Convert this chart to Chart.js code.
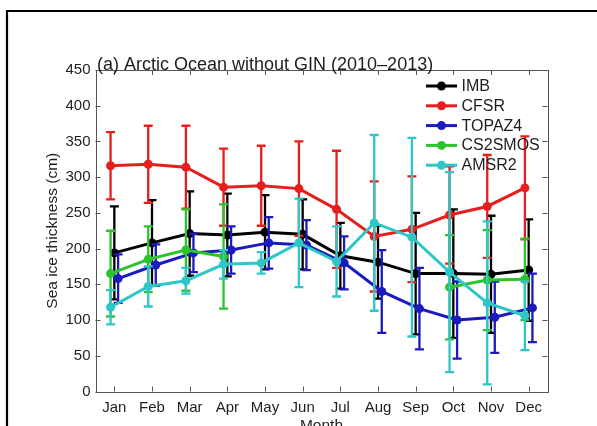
<!DOCTYPE html>
<html>
<head>
<meta charset="utf-8">
<script src="https://cdn.jsdelivr.net/npm/chart.js@4.4.1/dist/chart.umd.min.js"></script>
<style>
html,body{margin:0;padding:0;background:#fff;overflow:hidden}
canvas{display:block}
</style>
</head>
<body>
<canvas id="c" width="597" height="426"></canvas>
<script>
// ---- data ----
const months = ['Jan','Feb','Mar','Apr','May','Jun','Jul','Aug','Sep','Oct','Nov','Dec'];
const yTickValues = [0,50,100,150,200,250,300,350,400,450];

const imbMean  = [194, 208, 221, 219, 223, 220, 190, 181, 165, 165, 164, 170];
const imbStd   = [ 65,  60,  59,  58,  52,  49,  46,  51,  85,  90,  82,  71];

const cfsrMean = [316, 318, 314, 286, 288, 284, 255, 217, 227, 247, 259, 285];
const cfsrStd  = [ 47,  54,  58,  54,  56,  66,  82,  77,  74,  68,  72,  72];

const topazMean = [158, 177, 194, 198, 208, 205, 180, 140, 116, 100, 104, 117];
const topazStd  = [ 34,  29,  27,  33,  36,  35,  37,  58,  57,  54,  50,  48];

const cs2Mean = [165, 185, 198, 189, null, null, null, null, null, 146, 156, 157];
const cs2Std  = [ 60,  46,  57,  73, null, null, null, null, null,  73,  70,  57];

const amsrMean = [118, 147, 155, 178, 180, 208, 182, 236, 216, 167, 124, 106];
const amsrStd  = [ 24,  28,  18,  20,  15,  62,  49, 123, 139, 140, 114,  48];

const seriesLabels = ['IMB','CFSR','TOPAZ4','CS2SMOS','AMSR2'];

// ---- styling ----
const FONT = "'Liberation Sans', Arial, Helvetica, sans-serif";
const TEXT = '#1e1e1e';
const series = [
  {label: seriesLabels[0], mean: imbMean,   std: imbStd,   color: '#000000', shift: 0.0},
  {label: seriesLabels[1], mean: cfsrMean,  std: cfsrStd,  color: '#e61e1e', shift: -0.1},
  {label: seriesLabels[2], mean: topazMean, std: topazStd, color: '#1a1abe', shift: 0.1},
  {label: seriesLabels[3], mean: cs2Mean,   std: cs2Std,   color: '#2cc42c', shift: -0.1},
  {label: seriesLabels[4], mean: amsrMean,  std: amsrStd,  color: '#2ec6c6', shift: -0.1}
];

const datasets = series.map((s, k) => ({
  label: s.label,
  data: s.mean.map((v, i) => ({x: i + 1 + s.shift, y: v})),
  errors: s.std,
  borderColor: s.color,
  backgroundColor: s.color,
  pointBackgroundColor: s.color,
  pointBorderColor: s.color,
  pointRadius: 4.5,
  pointBorderWidth: 0,
  borderWidth: 3,
  spanGaps: false,
  tension: 0,
  order: series.length - k,
  clip: false
}));

const errorBars = {
  id: 'errorBars',
  beforeDatasetDraw(chart, args) {
    const ds = chart.data.datasets[args.index];
    const meta = args.meta;
    const ys = chart.scales.y;
    const ctx = chart.ctx;
    ctx.save();
    ctx.strokeStyle = ds.borderColor;
    ctx.lineWidth = 2.3;
    ctx.lineCap = 'butt';
    ds.data.forEach((p, i) => {
      const e = ds.errors[i];
      if (p.y == null || e == null) return;
      const x = meta.data[i].x;
      const yt = ys.getPixelForValue(p.y + e);
      const yb = ys.getPixelForValue(p.y - e);
      ctx.beginPath();
      ctx.moveTo(x, yt); ctx.lineTo(x, yb);
      ctx.moveTo(x - 4.5, yt); ctx.lineTo(x + 4.5, yt);
      ctx.moveTo(x - 4.5, yb); ctx.lineTo(x + 4.5, yb);
      ctx.stroke();
    });
    ctx.restore();
  }
};

const axesBox = {
  id: 'axesBox',
  afterDraw(chart) {
    const {ctx, chartArea: a, scales} = chart;
    ctx.save();
    ctx.strokeStyle = '#555';
    ctx.lineWidth = 1;
    ctx.strokeRect(Math.round(a.left) + 0.5, Math.round(a.top) + 0.5,
                   Math.round(a.right - a.left), Math.round(a.bottom - a.top));
    ctx.beginPath();
    const tl = 5;
    scales.x.ticks.forEach(t => {
      const x = Math.round(scales.x.getPixelForValue(t.value)) + 0.5;
      ctx.moveTo(x, a.bottom); ctx.lineTo(x, a.bottom - tl);
      ctx.moveTo(x, a.top); ctx.lineTo(x, a.top + tl);
    });
    scales.y.ticks.forEach(t => {
      const y = Math.round(scales.y.getPixelForValue(t.value)) + 0.5;
      ctx.moveTo(a.left, y); ctx.lineTo(a.left + tl, y);
      ctx.moveTo(a.right, y); ctx.lineTo(a.right - tl, y);
    });
    ctx.stroke();
    ctx.restore();
  }
};

const decorations = {
  id: 'decorations',
  afterDraw(chart) {
    const {ctx, chartArea: a} = chart;
    ctx.save();
    // outer frame
    ctx.strokeStyle = '#000';
    ctx.lineWidth = 2.2;
    ctx.beginPath();
    ctx.moveTo(7, 430); ctx.lineTo(7, 11); ctx.lineTo(600, 11);
    ctx.stroke();
    // title
    ctx.fillStyle = TEXT;
    ctx.font = '18px ' + FONT;
    ctx.textAlign = 'left';
    ctx.textBaseline = 'alphabetic';
    ctx.fillText('(a) Arctic Ocean without GIN (2010\u20132013)', a.left + 1.5, a.top - 0.5);
    // legend
    const lx0 = a.right - 121.5, lx1 = a.right - 90.5, tx = a.right - 86;
    series.forEach((s, i) => {
      const y = a.top + 16 + i * 19.8;
      ctx.strokeStyle = s.color;
      ctx.fillStyle = s.color;
      ctx.lineWidth = 3;
      ctx.beginPath(); ctx.moveTo(lx0, y); ctx.lineTo(lx1, y); ctx.stroke();
      ctx.beginPath(); ctx.arc((lx0 + lx1) / 2, y, 4.5, 0, Math.PI * 2); ctx.fill();
      ctx.fillStyle = TEXT;
      ctx.font = '16px ' + FONT;
      ctx.textBaseline = 'middle';
      ctx.fillText(s.label, tx, y + 0.5);
    });
    ctx.restore();
  }
};

new Chart(document.getElementById('c'), {
  type: 'line',
  data: {datasets},
  plugins: [errorBars, axesBox, decorations],
  options: {
    responsive: false,
    animation: false,
    devicePixelRatio: 1,
    layout: {padding: {left: 43.7, right: 49.5, top: 70, bottom: 0}},
    plugins: {legend: {display: false}, title: {display: false}, tooltip: {enabled: false}},
    scales: {
      x: {
        type: 'linear', min: 0.5, max: 12.5,
        grid: {display: false, drawTicks: false},
        border: {display: false},
        afterBuildTicks: s => { s.ticks = months.map((m, i) => ({value: i + 1})); },
        afterFit: s => { s.height = 34.5; },
        ticks: {
          autoSkip: false, maxRotation: 0, padding: 7, color: TEXT,
          font: {family: FONT, size: 15},
          callback: v => months[Math.round(v) - 1] || ''
        },
        title: {display: true, text: 'Month', color: TEXT,
                font: {family: FONT, size: 15.5}, padding: {top: 0, bottom: -9}}
      },
      y: {
        min: 0, max: 450,
        grid: {display: false, drawTicks: false},
        border: {display: false},
        afterBuildTicks: s => { s.ticks = yTickValues.map(v => ({value: v})); },
        afterFit: s => { s.width = 95.5 - 43.7; },
        ticks: {padding: 5, color: TEXT, font: {family: FONT, size: 15}},
        title: {display: true, text: 'Sea ice thickness (cm)', color: TEXT,
                font: {family: FONT, size: 15.5}, padding: {top: 0, bottom: 0}}
      }
    }
  }
});
</script>
</body>
</html>
